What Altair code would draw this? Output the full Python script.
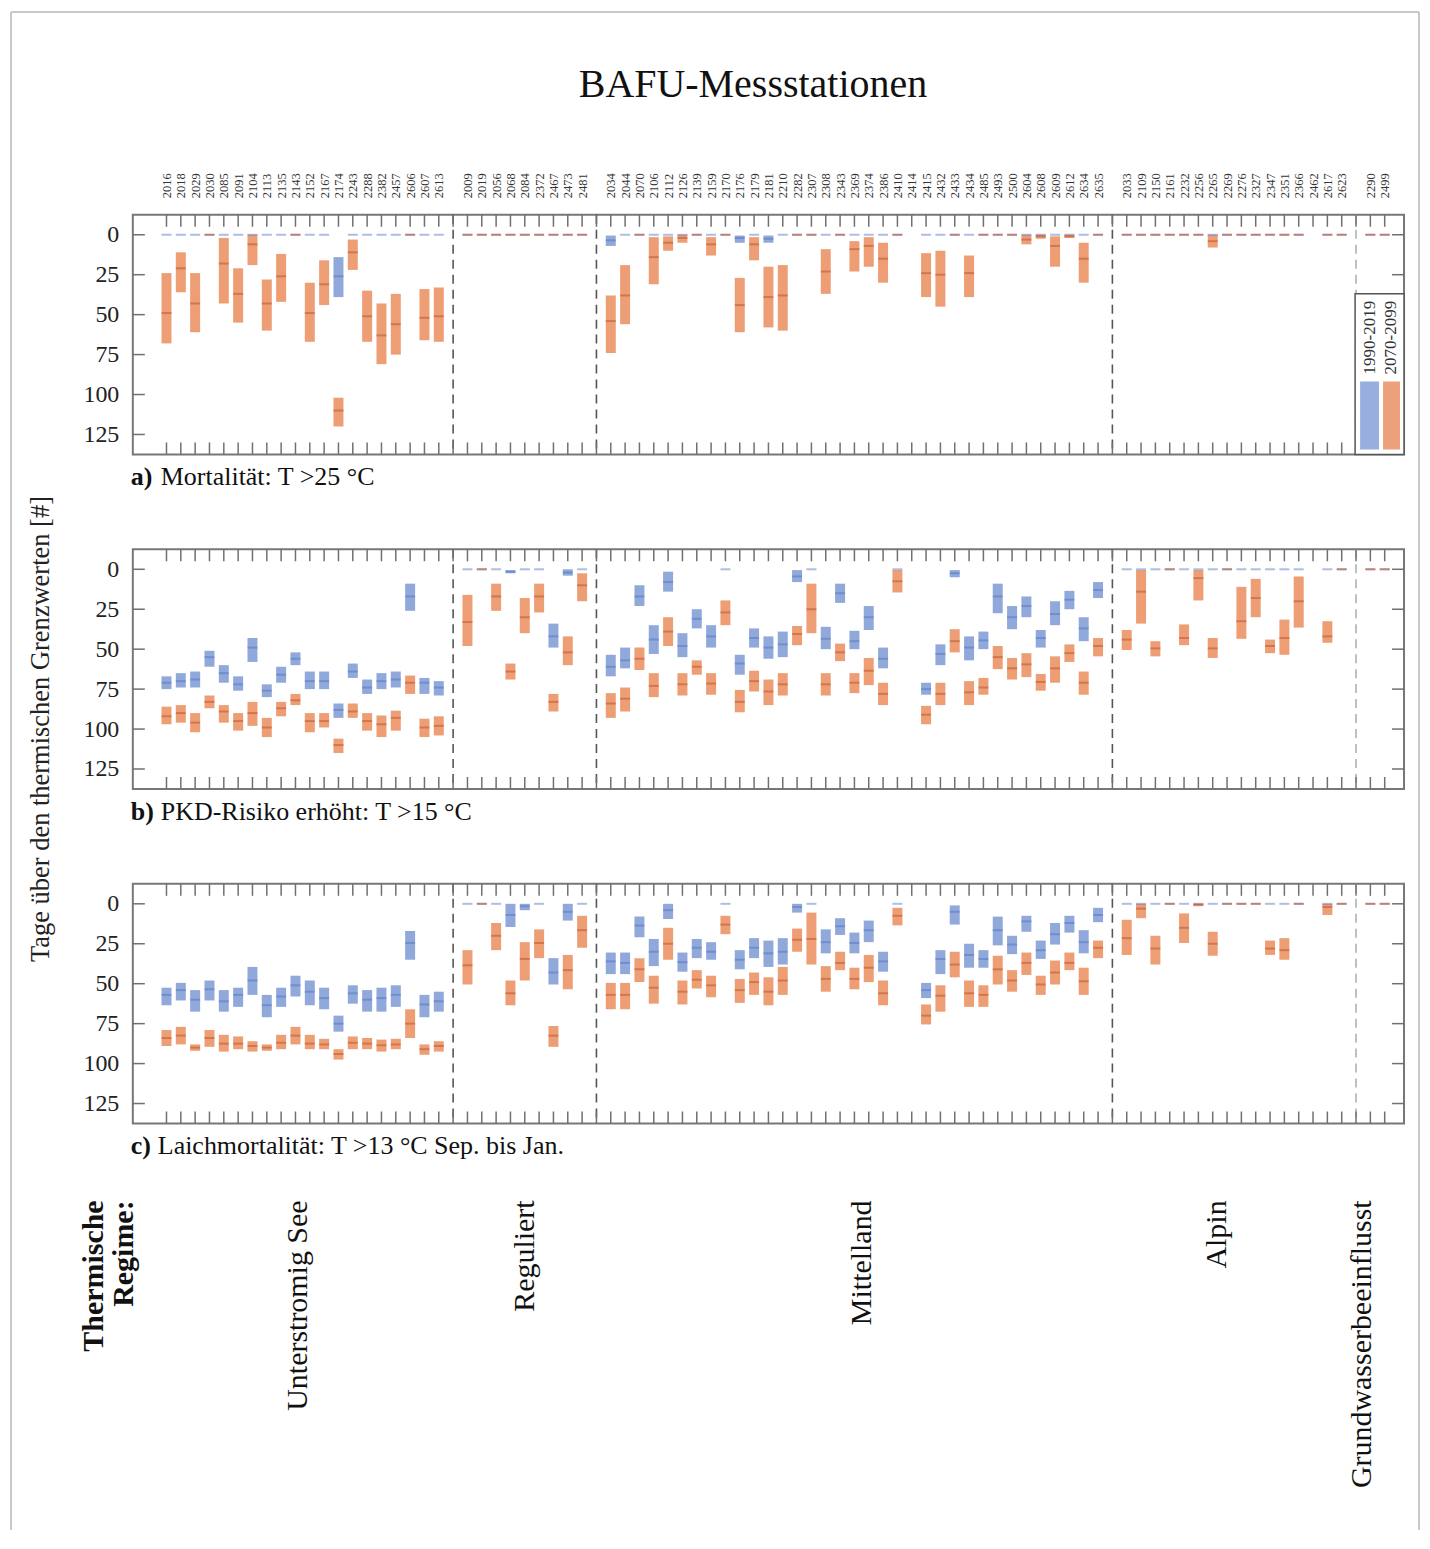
import json
import altair as alt
import pandas as pd

FONT = "Liberation Serif"
BLUE = "#8aa4d8"
ORANGE = "#ec996e"
BLUE_MED = "#4a6cc0"
ORANGE_MED = "#c0552a"

periods = ["1990-2019", "2070-2099"]

regimes = ["Unterstromig See", "Reguliert", "Mittelland", "Alpin", "Grundwasserbeeinflusst"]
regime_counts = [20, 9, 35, 16, 2]
regime_label_pos = [9.2, 25.0, 48.5, 73.3, 83.4]

stations = [
    # Unterstromig See
    "2016", "2018", "2029", "2030", "2085", "2091", "2104", "2113", "2135", "2143",
    "2152", "2167", "2174", "2243", "2288", "2382", "2457", "2606", "2607", "2613",
    # Reguliert
    "2009", "2019", "2056", "2068", "2084", "2372", "2467", "2473", "2481",
    # Mittelland
    "2034", "2044", "2070", "2106", "2112", "2126", "2139", "2159", "2170", "2176",
    "2179", "2181", "2210", "2282", "2307", "2308", "2343", "2369", "2374", "2386",
    "2410", "2414", "2415", "2432", "2433", "2434", "2485", "2493", "2500", "2604",
    "2608", "2609", "2612", "2634", "2635",
    # Alpin
    "2033", "2109", "2150", "2161", "2232", "2256", "2265", "2269", "2276", "2327",
    "2347", "2351", "2366", "2462", "2617", "2623",
    # Grundwasserbeeinflusst
    "2290", "2499",
]

Z = (0, 0, 0)
N = None

# (min, median, max) per station
a_1990 = [
    Z, Z, Z, Z, Z, Z, Z, Z, Z, Z, Z, Z, (14, 26, 39), Z, Z, Z, Z, Z, Z, Z,
    Z, Z, Z, Z, Z, Z, Z, Z, Z,
    (0.5, 3.5, 7), Z, Z, Z, Z, Z, Z, Z, Z, (0.5, 2, 5), Z, (0.5, 2.5, 5), Z, Z, Z, Z, Z, Z, Z, Z, Z,
    N, Z, Z, Z, Z, Z, Z, Z, Z, Z, Z, Z, Z, Z,
    Z, Z, Z, Z, Z, Z, Z, Z, Z, Z, Z, Z, Z, N, Z, Z,
    Z, Z,
]
a_2070 = [
    (24, 49, 68), (11, 21, 36), (24, 43, 61), Z, (2, 18, 43), (21, 37, 55), (0, 6, 19), (28, 43, 60),
    (12, 26, 42), Z, (30, 49, 67), (16, 31, 44), (102, 110, 120), (3, 11, 22), (35, 51, 67),
    (43, 63, 81), (37, 56, 75), Z, (34, 52, 66), (33, 51, 67),
    Z, Z, Z, Z, Z, Z, Z, Z, Z,
    (38, 54, 74), (19, 38, 56), Z, (1.5, 14, 31), (1, 5, 10), (0, 2, 5), Z, (1.5, 6, 13), Z,
    (27, 44, 61), (1.5, 6, 16), (20, 39, 58), (19, 38, 60), Z, Z, (9, 23, 37), Z, (4, 9, 23),
    (1.5, 7, 20), (5, 15, 30), Z, N, (11.5, 24, 39), (10, 25, 45), Z, (13, 24, 39), Z, Z, Z,
    (0, 3, 6), (0, 1, 2.5), (1, 7, 20), (0, 1, 2), (5, 15, 30), Z,
    Z, Z, Z, Z, Z, Z, (0, 4, 8), Z, Z, Z, Z, Z, Z, N, Z, Z,
    Z, Z,
]
b_1990 = [
    (67, 71, 75), (65, 70, 74), (64, 69, 74), (51, 55, 61), (60, 65, 71), (67, 72, 76), (43, 49, 58),
    (72, 76, 80), (61, 66, 71), (52, 56, 60), (64, 70, 75), (64, 70, 75), (84, 88, 93), (59, 64, 68),
    (69, 74, 78), (65, 70, 75), (64, 69, 74), (9, 17, 26), (68, 71, 78), (70, 74, 79),
    Z, Z, Z, (0.5, 1.5, 2.5), Z, Z, (34, 42, 49), (0, 2, 4), Z,
    (53.5, 61, 67), (49, 57, 62), (10, 17, 23), (35, 44, 53), (1.5, 8, 14), (40, 48, 55), (25, 31, 37),
    (35, 42, 49), Z, (53.5, 59, 66), (37, 43, 49), (42, 49, 56), (39, 47, 55), (0.5, 4.5, 8), Z,
    (36, 43.5, 50), (9, 15, 21), (38.5, 45, 50), (23, 30, 38), (49, 56, 62), Z, N, (71, 75, 78.5),
    (47, 53, 60), (0.5, 2.5, 5), (42, 49, 57), (39, 44.5, 50), (9, 17, 27.5), (23, 30, 37.5),
    (17, 23, 30), (38, 43, 49), (20, 28, 35), (13.5, 19, 25), (30, 37, 45), (8, 13, 18),
    Z, Z, Z, Z, Z, Z, Z, Z, Z, Z, Z, Z, Z, N, Z, Z,
    Z, Z,
]
b_2070 = [
    (86, 92, 97), (85, 90, 96), (90, 96, 102), (79, 83, 87), (85, 89, 96), (90, 95, 101), (83, 90, 98),
    (93, 99, 105), (83, 87, 92), (78, 82, 85), (90, 95, 102), (90, 95, 99), (106, 110, 115),
    (84, 89, 93), (90, 95, 101), (91.5, 97, 105), (88.5, 93, 101), (66.5, 71, 78), (93.5, 99, 105),
    (92, 98, 104),
    (16, 33, 48), Z, (9, 17, 26), (59, 64, 69), (18, 30, 40), (9, 17, 27), (78, 83, 89), (42, 52, 60),
    (2.5, 10, 20),
    (77.5, 84, 93), (74, 81, 89), (49, 56, 63), (65, 73, 80), (30, 39, 48), (65, 72, 79), (57, 61, 66),
    (65, 71.5, 78.5), (19.5, 27, 35), (75.5, 83, 89.5), (63.5, 70, 76.5), (69, 76.5, 85), (65, 72, 79),
    (35.5, 40.5, 47.5), (9, 25, 40), (65, 72, 79), (46.5, 52, 57.5), (65, 71, 77.5), (55.5, 63.5, 72.5),
    (71, 78, 85), (0.5, 7.5, 14.5), N, (85.5, 91, 97), (71, 78, 85), (37.5, 45, 52), (70, 77, 85),
    (68, 74, 78.5), (48, 55, 62.5), (55.5, 62, 69), (52.5, 59.5, 67.5), (65.5, 70.5, 76),
    (54.5, 62, 71), (47, 52.5, 58), (64, 71, 78.5), (43, 48, 54.5),
    (38, 44, 50.5), (0.5, 14, 34), (45, 49.5, 54.5), Z, (34.5, 43, 47.5), (0.5, 5.5, 19.5),
    (43, 49.5, 55.5), Z, (11, 32.5, 43.5), (6, 18, 30), (44, 48, 52.5), (31.5, 43, 53.5),
    (4.5, 20, 36.5), N, (32.5, 42, 46), Z,
    Z, Z,
]
c_1990 = [
    (52.5, 57, 63.5), (49.5, 54, 60.5), (54, 60, 67.5), (48, 53.5, 60.5), (54, 61, 67.5),
    (52.5, 57, 64.5), (39.5, 48, 57), (57, 63.5, 71), (52.5, 58, 64.5), (45, 51, 58), (48, 55, 63.5),
    (52.5, 59, 66), (70, 75, 80), (51, 56, 62.5), (54, 60, 67.5), (52.5, 59, 67.5), (51, 57, 64.5),
    (17, 24.5, 35), (57, 63, 71), (55, 61, 67.5),
    Z, Z, Z, (0, 7, 14.5), (0, 1.5, 4), Z, (34, 43, 50.5), (0, 5, 10.5), Z,
    (30.5, 36, 44), (30.5, 37, 44), (8, 13.5, 21), (22, 30, 39), (0, 4, 9.5), (30.5, 36.5, 42.5),
    (22, 27.5, 34), (24, 30, 35), Z, (29, 35, 41), (21.5, 27.5, 34), (23, 31, 39.5), (21.5, 30, 38),
    (0, 2, 5.5), Z, (16, 24, 31), (9, 14, 19.5), (18, 24.5, 31), (10.5, 16.5, 24), (30, 36, 42.5),
    Z, N, (49.5, 54, 59), (29, 34.5, 44), (1, 5, 13), (25, 32, 40), (29, 34.5, 40), (8, 16.5, 26),
    (20, 25.5, 31.5), (7.5, 11, 17.5), (23, 29, 34.5), (12, 19, 25.5), (7.5, 12, 18), (16.5, 24, 31),
    (2.5, 7, 11.5),
    Z, Z, Z, Z, Z, Z, Z, Z, Z, Z, Z, Z, Z, N, Z, Z,
    Z, Z,
]
c_2070 = [
    (79, 84, 89), (77, 82.5, 88), (88, 90, 92), (79, 84, 89.5), (82, 87.5, 92.5), (83, 87.5, 91),
    (86, 89, 92.5), (88, 90, 92), (82, 87, 91), (77, 82.5, 88), (82, 87.5, 91), (84.5, 88, 91),
    (91, 94, 97.5), (83, 87, 91), (84, 87.5, 91), (85, 88.5, 92.5), (84.5, 88, 91), (66, 75, 84),
    (88, 91, 94.5), (86, 89, 92.5),
    (29, 38.5, 50.5), Z, (12, 20, 29), (48, 56, 63.5), (24, 34.5, 48), (16, 24.5, 34),
    (76.5, 82.5, 89.5), (32, 41.5, 53.5), (7.5, 16.5, 27.5),
    (49.5, 57, 66), (49.5, 57, 66), (34, 41, 49), (45, 52.5, 62.5), (15, 25, 35), (48, 55, 63),
    (41.5, 47.5, 53), (45, 51, 58.5), (7.5, 13, 19), (47, 54, 62), (43, 49, 57), (46, 55, 63.5),
    (39.5, 48, 57), (15.5, 22.5, 30), (5.5, 22, 38), (39, 47, 55), (30, 37, 41.5), (40, 47, 53.5),
    (32, 40, 49), (48, 56, 63.5), (2.5, 7.5, 13.5), N, (63, 70, 75.5), (51, 57.5, 67.5), (30, 38, 46),
    (48, 56, 64.5), (51, 57, 64.5), (32.5, 41, 50.5), (41.5, 48, 55), (30.5, 37, 44.5), (45, 50.5, 57),
    (35.5, 43, 50.5), (30.5, 37, 41.5), (40, 48.5, 57), (23, 27.5, 34),
    (10, 21.5, 32), (0, 3, 9), (20, 28, 38), Z, (6, 15, 24.5), (0, 0.5, 1.5), (17.5, 25, 32.5), Z, Z, Z,
    (23, 28, 32), (21.5, 29, 35), Z, N, (0, 2, 7), Z,
    Z, Z,
]

y_ticks = [0, 25, 50, 75, 100, 125]

# ---- slot positions (stations, with one empty slot between regimes) ----
positions, sep_pos = [], []
p = 0
for gi, n in enumerate(regime_counts):
    for _ in range(n):
        positions.append(p)
        p += 1
    if gi < len(regime_counts) - 1:
        sep_pos.append(p)
        p += 1
n_slots = p
sep_colors = ["#555555", "#555555", "#555555", "#b0b0b0"]
all_labels = [""] * n_slots
for pos, sid in zip(positions, stations):
    all_labels[pos] = sid

W, H = 1273, 240
XS = alt.Scale(domain=[-2, 86], nice=False, zero=False)
YS = alt.Scale(domain=[-12.5, 137.5], reverse=True, nice=False, zero=False)


def rows(old, new):
    out = []
    for period, arr in zip(periods, [old, new]):
        for pos, v in zip(positions, arr):
            if v is None:
                continue
            out.append({"pos": pos, "lo": v[0], "med": v[1], "hi": v[2], "period": period})
    return pd.DataFrame(out)


def one():
    return pd.DataFrame({"k": [0]})


def label(txt, x, y, **kw):
    base = dict(font=FONT, color="#111111")
    base.update(kw)
    return alt.Chart(pd.DataFrame({"t": [txt]})).mark_text(**base).encode(
        x=alt.value(x), y=alt.value(y), text="t:N"
    )


def panel(old, new, letter, caption, cap_dx, top_labels, extras):
    df = rows(old, new)
    if top_labels:
        xaxis = alt.Axis(
            orient="top", values=positions, labelExpr=f"{json.dumps(all_labels)}[round(datum.value)]",
            labelAngle=-90, ticks=False, tickSize=0, domain=False, grid=False, labelFont=FONT,
            labelFontSize=12.5, labelPadding=17, title=None, labelColor="#333333",
            labelOverlap=False, labelFlush=False, labelBound=False,
        )
    else:
        xaxis = None
    yaxis = alt.Axis(
        values=y_ticks, ticks=False, tickSize=0, domain=False, grid=False, labelFont=FONT,
        labelFontSize=24, labelPadding=14, title=None, labelColor="#222222",
    )

    def X(field="pos"):
        return alt.X(f"{field}:Q", scale=XS, axis=xaxis)

    def Y(field):
        return alt.Y(f"{field}:Q", scale=YS, axis=yaxis)

    seps = alt.Chart(pd.DataFrame({"pos": sep_pos, "c": sep_colors})).mark_rule(
        strokeDash=[9, 6], strokeWidth=1.6
    ).encode(
        x=X(), y=alt.value(0), y2=alt.value(H),
        color=alt.Color("c:N", scale=None),
    )
    bars = alt.Chart(df).mark_bar(size=10, opacity=0.95).encode(
        x=X(), y=Y("lo"), y2="hi:Q",
        color=alt.Color("period:N", scale=alt.Scale(domain=periods, range=[BLUE, ORANGE]), legend=None),
    )
    med_old = alt.Chart(df).transform_filter(alt.datum.period == periods[0]).mark_tick(
        orient="horizontal", size=10, thickness=2, color=BLUE_MED, opacity=0.45
    ).encode(x=X(), y=Y("med"))
    med_new = alt.Chart(df).transform_filter(alt.datum.period == periods[1]).mark_tick(
        orient="horizontal", size=10, thickness=2, color=ORANGE_MED, opacity=0.55
    ).encode(x=X(), y=Y("med"))

    tdf = pd.DataFrame({"pos": sorted(positions + sep_pos)})
    tick_top = alt.Chart(tdf).mark_rule(color="#707070", strokeWidth=1.5).encode(
        x=X(), y=alt.value(0), y2=alt.value(12))
    tick_bot = alt.Chart(tdf).mark_rule(color="#707070", strokeWidth=1.5).encode(
        x=X(), y=alt.value(H - 12), y2=alt.value(H))
    ydf = pd.DataFrame({"yv": y_ticks})
    tick_l = alt.Chart(ydf).mark_rule(color="#707070", strokeWidth=1.5).encode(
        y=Y("yv"), x=alt.value(0), x2=alt.value(12))
    tick_r = alt.Chart(ydf).mark_rule(color="#707070", strokeWidth=1.5).encode(
        y=Y("yv"), x=alt.value(W - 12), x2=alt.value(W))

    cap1 = label(letter, -2, 263, fontSize=26, fontWeight="bold", align="left", baseline="middle")
    cap2 = label(caption, cap_dx, 263, fontSize=26, align="left", baseline="middle")

    layers = [seps, tick_top, tick_bot, tick_l, tick_r, bars, med_old, med_new, cap1, cap2] + extras
    return alt.layer(*layers).properties(width=W, height=H)


# ---- extras for panel a: title, legend, page frame ----
title = label("BAFU-Messstationen", 621, -130, fontSize=40, align="center", baseline="middle")
leg_box = alt.Chart(one()).mark_rect(fill="white", stroke="#555555", strokeWidth=1.5).encode(
    x=alt.value(1224), x2=alt.value(W), y=alt.value(79), y2=alt.value(H))
leg_b = alt.Chart(one()).mark_rect(fill="#98aedd").encode(
    x=alt.value(1229), x2=alt.value(1248), y=alt.value(167), y2=alt.value(235))
leg_o = alt.Chart(one()).mark_rect(fill="#eba17c").encode(
    x=alt.value(1252), x2=alt.value(1269), y=alt.value(167), y2=alt.value(235))
leg_t1 = label(periods[0], 1239, 123, fontSize=17, angle=270, align="center", baseline="middle", color="#333333")
leg_t2 = label(periods[1], 1260, 123, fontSize=17, angle=270, align="center", baseline="middle", color="#333333")
frame_l = alt.Chart(one()).mark_rule(color="#c8c8c8", strokeWidth=2).encode(
    x=alt.value(-122), y=alt.value(-203), y2=alt.value(1317))
frame_t = alt.Chart(one()).mark_rule(color="#c8c8c8", strokeWidth=2).encode(
    x=alt.value(-122), x2=alt.value(1288), y=alt.value(-203))
frame_r = alt.Chart(one()).mark_rule(color="#c8c8c8", strokeWidth=2).encode(
    x=alt.value(1288), y=alt.value(-203), y2=alt.value(1317))

# ---- extras for panel b: y title ----
ytitle = label("Tage über den thermischen Grenzwerten [#]", -92, 180, fontSize=26.5, angle=270,
               align="center", baseline="middle", color="#222222")

# ---- extras for panel c: regimes ----
reg = alt.Chart(pd.DataFrame({"pos": regime_label_pos, "name": regimes})).mark_text(
    font=FONT, fontSize=30, angle=270, align="right", baseline="middle", color="#111111"
).encode(x=alt.X("pos:Q", scale=XS, axis=None), y=alt.value(317), text="name:N")
reg_head = alt.Chart(pd.DataFrame({"t": [["Thermische", "Regime:"]]})).mark_text(
    font=FONT, fontSize=30, fontWeight="bold", angle=270, align="right", baseline="middle",
    lineHeight=30, color="#111111"
).encode(x=alt.value(-39), y=alt.value(317), text="t")

pa = panel(a_1990, a_2070, "a)", "Mortalität: T >25 °C", 28, True,
           [title, leg_box, leg_b, leg_o, leg_t1, leg_t2, frame_l, frame_t, frame_r])
pb = panel(b_1990, b_2070, "b)", "PKD-Risiko erhöht: T >15 °C", 28, False, [ytitle])
pc = panel(c_1990, c_2070, "c)", "Laichmortalität: T >13 °C Sep. bis Jan.", 25, False, [reg, reg_head])

chart = alt.vconcat(pa, pb, pc, spacing=95, bounds="flush").properties(
    padding={"left": 1, "top": 1, "right": 1, "bottom": 2}
).configure_view(stroke="#777777", strokeWidth=2)

chart.save("out.html", embed_options={"renderer": "svg", "actions": False})
